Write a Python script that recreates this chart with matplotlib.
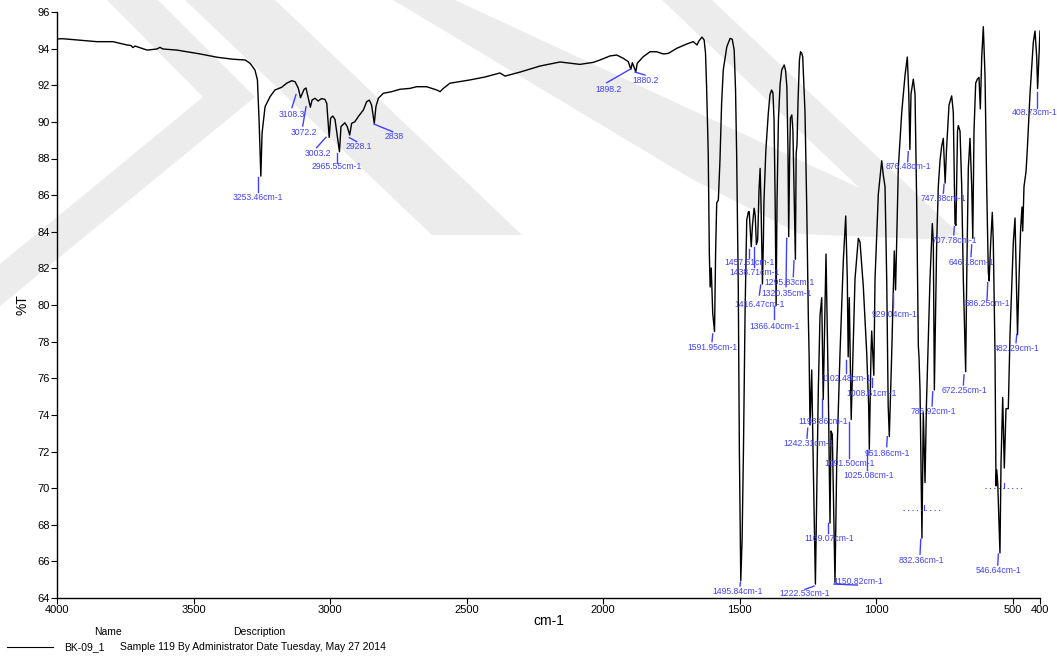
import numpy as np
import matplotlib
matplotlib.use("Agg")
import matplotlib.pyplot as plt
from matplotlib.patches import Polygon

plt.rcParams['font.family'] = ['Liberation Sans', 'DejaVu Sans']

# ---- spectrum, (cm-1, %T) pairs by region ----
region_ch = [  # 4000-2550: N-H / C-H stretches
    (4000, 94.53), (3978, 94.54), (3854, 94.38), (3795, 94.38), (3744, 94.20),
    (3729, 94.17), (3722, 94.06), (3714, 94.14), (3670, 93.92), (3634, 93.98),
    (3623, 94.07), (3612, 93.98), (3561, 93.92), (3476, 93.71), (3414, 93.53),
    (3355, 93.42), (3311, 93.38), (3293, 93.20), (3275, 92.83), (3266, 92.29),
    (3260, 90.10), (3253.46, 87.04), (3249, 89.39), (3238, 90.83), (3220, 91.37),
    (3202, 91.74), (3177, 91.89), (3159, 92.11), (3140, 92.25), (3128, 92.19),
    (3116, 91.83), (3108.3, 91.32), (3095, 91.78), (3088, 91.85), (3072.2, 90.80),
    (3066, 91.19), (3055, 91.29), (3044, 91.14), (3031, 91.27), (3019, 91.23),
    (3012, 91.01), (3003.2, 89.15), (2998, 90.20), (2990, 90.32), (2982, 90.14),
    (2965.55, 88.37), (2960, 89.74), (2946, 89.95), (2937, 89.74), (2928.1, 89.28),
    (2921, 89.92), (2909, 90.01), (2897, 90.28), (2878, 90.65), (2866, 91.10),
    (2856, 91.19), (2848, 90.92), (2838, 89.92), (2832, 90.83), (2823, 91.29),
    (2805, 91.56), (2774, 91.65), (2744, 91.78), (2707, 91.83), (2683, 91.92),
    (2646, 91.92), (2609, 91.74), (2597, 91.65), (2585, 91.83), (2561, 92.11),
]
region_mid = [  # 2500-1630
    (2488, 92.29), (2433, 92.45), (2378, 92.67), (2359, 92.50), (2304, 92.72),
    (2231, 93.05), (2158, 93.27), (2085, 93.14), (2036, 93.25), (2011, 93.38),
    (1975, 93.60), (1950, 93.65), (1926, 93.47), (1908, 93.29), (1898.2, 92.87),
    (1893, 93.23), (1880.2, 92.74), (1875, 93.20), (1853, 93.56), (1828, 93.83),
    (1804, 93.83), (1780, 93.71), (1761, 93.74), (1730, 94.02), (1694, 94.25),
    (1670, 94.38), (1656, 94.20), (1649, 94.42), (1638, 94.63), (1630, 94.47),
]
region_double = [  # 1625-1269
    (1625, 93.76), (1621, 91.92), (1615, 88.28), (1611, 82.82), (1608, 80.98),
    (1604, 82.02), (1598.6, 79.56), (1591.95, 78.55), (1588, 82.84), (1584, 85.57),
    (1578, 85.73), (1572, 87.92), (1566, 91.01), (1560, 92.83), (1547, 94.10),
    (1535, 94.56), (1527, 94.51), (1520, 93.92), (1515, 91.74), (1511, 88.28),
    (1505, 81.00), (1501, 72.08), (1495.84, 64.95), (1491, 67.17), (1486, 72.08),
    (1480, 79.73), (1474, 84.64), (1468, 85.08), (1465, 85.10), (1457.61, 83.18),
    (1453, 84.37), (1447, 85.28), (1443, 84.91), (1438.71, 83.30), (1434, 83.55),
    (1429, 86.28), (1425, 87.46), (1422, 85.73), (1416.47, 81.15), (1413, 83.55),
    (1411, 85.64), (1404, 88.46), (1395, 90.47), (1389, 91.47), (1383, 91.74),
    (1378, 91.58), (1374, 90.10), (1370, 85.73), (1366.40, 79.98), (1363, 85.73),
    (1358, 90.10), (1352, 92.01), (1346, 92.83), (1337, 93.11), (1332, 92.83),
    (1327, 91.92), (1323, 88.46), (1320.35, 83.73), (1317, 87.92), (1314, 90.21),
    (1309, 90.38), (1305, 89.56), (1300, 85.73), (1295.83, 82.50), (1293, 88.30),
    (1290, 88.74), (1286, 91.19), (1281, 93.38), (1277, 93.83), (1273, 93.76),
    (1269, 93.56),
]
region_fp1 = [  # 1267-955 fingerprint
    (1266.8, 92.73), (1260.6, 90.51), (1254.4, 85.46), (1248.5, 79.40),
    (1245.5, 77.20), (1242.31, 73.45), (1236.0, 76.45), (1231.3, 72.08),
    (1222.53, 64.76), (1211.9, 75.36), (1205.7, 79.40), (1199.4, 80.40),
    (1193.86, 74.84), (1183.7, 82.78), (1175.3, 75.36), (1169.07, 68.09),
    (1165.4, 73.12), (1160.6, 72.93), (1150.82, 64.85), (1144.5, 71.32),
    (1132.4, 77.38), (1120.3, 82.42), (1111.5, 84.86), (1105.7, 81.42),
    (1102.48, 77.17), (1098.4, 80.40), (1091.50, 73.74), (1086.7, 76.36),
    (1077.5, 81.42), (1065.4, 83.64), (1059.2, 83.44), (1047.1, 81.01),
    (1034.6, 77.38), (1027.5, 74.50), (1025.08, 72.12), (1018.9, 77.38),
    (1016.4, 78.58), (1008.61, 76.16), (1004.2, 81.42), (992.1, 86.06),
    (979.7, 87.88), (973.8, 87.08), (967.6, 86.47), (961.4, 81.42), (956.0, 74.50),
]
region_fp2 = [  # 952-400
    (951.86, 72.82), (943.0, 77.38), (933.6, 82.95), (929.04, 80.82), (925.5, 83.03),
    (918.9, 87.48), (906.4, 90.51), (894.4, 92.53), (885.9, 93.54), (880.5, 91.52),
    (876.48, 88.49), (872.4, 91.52), (864.0, 92.33), (857.7, 91.52), (851.5, 85.46),
    (845.6, 77.78), (843.1, 77.17), (839.4, 75.36), (832.36, 67.27), (827.4, 74.16),
    (821.1, 70.30), (816.0, 74.50), (802.8, 81.42), (794.4, 84.45), (790.7, 83.44),
    (786.92, 75.36), (778.3, 83.44), (772.4, 86.47), (766.2, 87.88), (760.0, 88.69),
    (754.1, 89.10), (747.38, 86.66), (742.4, 88.49), (736.9, 89.91), (733.2, 90.92),
    (723.4, 91.42), (717.5, 90.51), (711.3, 84.45), (707.78, 84.35), (702.1, 89.50),
    (699.2, 89.80), (692.9, 89.50), (686.7, 86.47), (680.8, 81.42), (672.25, 76.36),
    (668.4, 81.42), (662.5, 87.48), (656.3, 89.10), (650.1, 86.47), (646.18, 83.64),
    (641.7, 89.50), (635.5, 92.12), (629.6, 92.33), (623.4, 92.43), (618.6, 90.71),
    (613.4, 93.54), (607.6, 95.20), (601.4, 92.53), (595.2, 86.47), (589.3, 81.80),
    (586.25, 81.31), (580.5, 83.44), (574.7, 85.06), (571.0, 83.44), (564.8, 77.38),
    (561.1, 70.12), (558.5, 71.00), (554.9, 70.30), (546.64, 66.46), (542.8, 71.32),
    (536.6, 74.95), (530.7, 71.10), (524.5, 74.34), (516.1, 74.34), (509.8, 78.38),
    (497.7, 83.44), (491.5, 84.75), (482.29, 78.38), (476.9, 81.42), (470.7, 84.24),
    (465.9, 85.35), (463.3, 84.04), (458.6, 86.47), (451.2, 87.28), (446.5, 88.49),
    (436.6, 91.52), (424.5, 94.35), (418.3, 94.96), (412.1, 93.54), (408.73, 91.82),
    (400.0, 94.96),
]

# ---- annotated bands ----
band_wn = [3253.46, 3108.3, 3072.2, 3003.2, 2965.55, 2928.1, 2838, 1898.2, 1880.2,
           1591.95, 1495.84, 1457.61, 1438.71, 1416.47, 1366.40, 1320.35, 1295.83,
           1242.31, 1222.53, 1193.86, 1169.07, 1150.82, 1102.48, 1091.50, 1025.08,
           1008.61, 951.86, 929.04, 876.48, 832.36, 786.92, 747.38, 707.78, 672.25,
           646.18, 586.25, 546.64, 482.29, 408.73]
band_text = ["3253.46cm-1", "3108.3", "3072.2", "3003.2", "2965.55cm-1", "2928.1",
             "2838", "1898.2", "1880.2", "1591.95cm-1", "1495.84cm-1", "1457.61cm-1",
             "1438.71cm-1", "1416.47cm-1", "1366.40cm-1", "1320.35cm-1", "1295.83cm-1",
             "1242.31cm-1", "1222.53cm-1", "1193.86cm-1", "1169.07cm-1", "1150.82cm-1",
             "1102.48cm-1", "1091.50cm-1", "1025.08cm-1", "1008.61cm-1", "951.86cm-1",
             "929.04cm-1", "876.48cm-1", "832.36cm-1", "786.92cm-1", "747.38cm-1",
             "707.78cm-1", "672.25cm-1", "646.18cm-1", "586.25cm-1", "546.64cm-1",
             "482.29cm-1", "408.73cm-1"]
band_T = [86.99, 91.49, 90.83, 89.16, 88.32, 89.14, 89.88, 92.87, 92.72, 78.42,
          64.87, 83.04, 83.18, 81.09, 79.94, 83.64, 82.42, 73.27, 64.65, 74.85,
          68.11, 64.76, 77.00, 73.63, 72.08, 76.00, 72.81, 80.64, 88.37, 67.20,
          75.26, 86.59, 84.28, 76.18, 83.28, 81.22, 66.40, 78.40, 91.65]

# label layout in pixels: line start dx, line end (dx, dy), text centre (dx, dy); dy downward
band_layout = [
    (-3, -3, 15, -3, 21), (-4.5, -8.5, 13, -8.5, 19.5), (-4.3, -7.6, 19.3, -6.3, 25.6),
    (-3.2, -12.5, 10.4, -11.5, 16), (-2.8, -2.8, 10, -2.5, 14), (-0.4, 7, 4, 8.6, 9),
    (-0.3, 18.4, 7.7, 20, 12), (-0.9, -24.2, 13.4, -22.6, 20), (-0.8, 9.2, 3, 10.2, 8.7),
    (-1.8, -2.5, 7.7, -1.8, 13.3), (-0.3, -0.8, 4, -2.8, 9), (-2.2, -2.2, 9, -1.9, 13),
    (-2.4, -2.4, 20.6, -2.1, 26), (-1.7, -3.1, 10, -2.4, 19), (-2.1, -2.1, 13.3, -1.1, 20.7),
    (-2, -2.7, 48.4, -2, 55), (-1.4, -2.1, 16, -6.1, 22), (-2.3, -3, 10, -1.7, 15),
    (-1.4, -10.4, 3.3, -10.4, 7.3), (-1.5, -1.5, 17.4, -0.5, 21.7), (-1.7, -1.7, 10.6, -0.7, 15.6),
    (-1, 22.3, 1, 23.3, -3), (-2.2, -2.2, 13.3, -1.5, 18.3), (-2.2, -2.2, 36.3, -1.2, 42.3),
    (-2, -2, 20, -1, 25), (-2, -2, 9, -2.1, 15.5), (-2, -2.6, 10, -1.6, 16.6),
    (-2.2, -2.2, 13.4, -1.5, 21.7), (-1.6, -2.2, 10, -1.6, 14.3), (-1.2, -1.9, 14.7, -0.2, 20.7),
    (-1.6, -2.3, 14.3, -1, 19.3), (-1.1, -1.8, 9, -1.8, 14), (-1.6, -2.2, 8.3, -1.9, 14.3),
    (-1.6, -2.3, 10, -1.6, 15.3), (-1.1, -1.8, 11.7, -1.1, 17.3), (-1.4, -2.1, 16.6, -1.4, 21.3),
    (-1.6, -2.2, 11, -1.6, 16), (-0.8, -1.5, 8.4, -0.8, 14), (-0.9, -0.9, 16.6, -2.6, 21.3),
]

# dotted peak-height markers: wn span, level, tick position
marker_wn0 = [902, 601]
marker_wn1 = [755, 462]
marker_T = [68.8, 70.0]
marker_tick = [825, 531]

xticks = [4000, 3500, 3000, 2500, 2000, 1500, 1000, 500, 400]
yticks = list(range(64, 97, 2))

BLUE = '#4040ff'
SHADE = '#ececec'

spectrum = np.array(region_ch + region_mid + region_double + region_fp1 + region_fp2)

fig = plt.figure(figsize=(10.57, 6.57), dpi=100)
W, H = 1057, 657


def fig_xy(pts):
    return [(x / W, 1 - y / H) for x, y in pts]


# pale background chevrons of the page watermark (figure pixels, y down)
shade_shapes = [
    [(107, 0), (158, 0), (255, 97), (0, 306), (0, 264), (203, 97)],
    [(185, 0), (275, 0), (522, 235), (432, 235)],
    [(662, 0), (712, 0), (960, 235), (909, 235)],
    [(393, 0), (455, 0), (950, 230), (950, 240), (800, 234), (690, 178)],
]
for pts in shade_shapes:
    fig.add_artist(Polygon(fig_xy(pts), closed=True, facecolor=SHADE, edgecolor='none',
                           transform=fig.transFigure, zorder=-10))

ax = fig.add_axes([57 / W, 1 - 598 / H, (1040 - 57) / W, (598 - 12) / H])
ax.patch.set_alpha(0)

ax.plot(spectrum[:, 0], spectrum[:, 1], color='black', lw=1.0, zorder=3)
ax.set_xlim(4000, 400)
ax.set_ylim(64, 96)
ax.set_xticks(xticks)
ax.set_yticks(yticks)
ax.tick_params(labelsize=8, length=4, width=0.8, direction='out', pad=1)
for s in ('top', 'right'):
    ax.spines[s].set_visible(False)
for s in ('left', 'bottom'):
    ax.spines[s].set_linewidth(1.0)
ax.set_xlabel('cm-1', fontsize=10, labelpad=-1)
ax.set_ylabel('%T', fontsize=10, labelpad=6)

fig.canvas.draw()
to_disp = ax.transData.transform
to_data = ax.transData.inverted().transform

for wn, t, txt, (sdx, ldx, ldy, tdx, tdy) in zip(band_wn, band_T, band_text, band_layout):
    px, py = to_disp((wn, t))
    a = to_data((px + sdx, py))
    b = to_data((px + ldx, py - ldy))
    c = to_data((px + tdx, py - tdy))
    ax.plot([a[0], b[0]], [a[1], b[1]], color=BLUE, lw=1.0, clip_on=False, zorder=4)
    ax.text(c[0], c[1], txt, color=BLUE, fontsize=6.2, ha='center', va='center',
            clip_on=False, zorder=5)

for w0, w1, lvl, wt in zip(marker_wn0, marker_wn1, marker_T, marker_tick):
    ax.plot([w0, w1], [lvl, lvl], color=BLUE, lw=0.8, ls=(0, (1, 3)), zorder=4)
    ax.plot([wt, wt], [lvl, lvl + 0.3], color=BLUE, lw=0.8, zorder=4)

# footer
fig.text(108 / W, 1 - 632 / H, 'Name', fontsize=7.5, ha='center', va='center')
fig.text(259 / W, 1 - 632 / H, 'Description', fontsize=7.5, ha='center', va='center')
fig.add_artist(plt.Line2D([7 / W, 53 / W], [1 - 647 / H, 1 - 647 / H], color='black', lw=0.8))
fig.text(64 / W, 1 - 647 / H, 'BK-09_1', fontsize=7.5, ha='left', va='center')
fig.text(120 / W, 1 - 647 / H, 'Sample 119 By Administrator Date Tuesday, May 27 2014',
         fontsize=7.5, ha='left', va='center')

fig.savefig('out.png', dpi=100, facecolor='white')
